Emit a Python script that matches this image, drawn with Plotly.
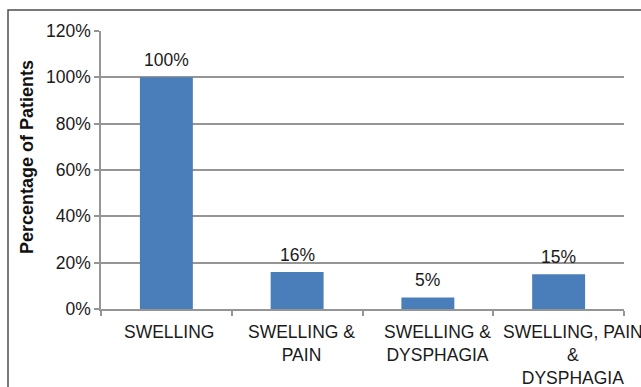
import plotly.graph_objects as go

categories = ["SWELLING", "SWELLING & PAIN", "SWELLING & DYSPHAGIA", "SWELLING, PAIN & DYSPHAGIA"]
category_labels = ["SWELLING", "SWELLING &<br>PAIN", "SWELLING &<br>DYSPHAGIA", "SWELLING, PAIN<br>&<br>DYSPHAGIA"]
percentages = [100, 16, 5, 15]
y_ticks = [0, 20, 40, 60, 80, 100, 120]
y_tick_labels = [f"{v}%" for v in y_ticks]

BAR_COLOR = "#4A7EBB"
GRID_COLOR = "#959595"
FONT = "Liberation Sans, Arial, sans-serif"
TEXT_SIZE = 17.5
LABEL_NUDGE = [2.5, 4, 9.5, 14.5]   # px: category labels drift rightward

fig = go.Figure()
fig.add_trace(go.Bar(
    x=categories,
    y=percentages,
    marker=dict(color=BAR_COLOR, line=dict(width=0)),
    width=0.405,
    hoverinfo="skip",
))

# value labels above each bar
for cat, val in zip(categories, percentages):
    fig.add_annotation(
        x=cat, y=val, text=f"{val}%", showarrow=False,
        xref="x", yref="y", yanchor="middle", yshift=17,
        font=dict(family=FONT, size=TEXT_SIZE, color="#1a1a1a"),
    )

# category labels under the axis
for cat, lab, dx in zip(categories, category_labels, LABEL_NUDGE):
    fig.add_annotation(
        x=cat, y=0, text=lab, showarrow=False,
        xref="x", yref="paper", xanchor="center", yanchor="top",
        xshift=dx, yshift=-10.5, align="center",
        font=dict(family=FONT, size=TEXT_SIZE, color="#1a1a1a"),
    )

# outer chart border (left and top edges visible; the rest runs off the page)
fig.add_shape(
    type="rect", xref="paper", yref="paper",
    x0=(8 - 101) / 523, x1=(720 - 101) / 523,
    y0=(309 - 480) / 278, y1=(309 - 10) / 278,
    line=dict(color="#4d4d4d", width=1.5), fillcolor="rgba(0,0,0,0)", layer="below",
)

# y-axis title
fig.add_annotation(
    x=(27 - 101) / 523, y=(309 - 157) / 278, xref="paper", yref="paper",
    text="<b>Percentage of Patients</b>", textangle=-90, showarrow=False,
    xanchor="center", yanchor="middle",
    font=dict(family=FONT, size=18, color="#111111"),
)

fig.update_layout(
    width=641, height=387,
    margin=dict(l=101, r=17, t=31, b=78),
    paper_bgcolor="white", plot_bgcolor="white",
    showlegend=False,
    font=dict(family=FONT, size=TEXT_SIZE, color="#1a1a1a"),
    xaxis=dict(
        type="category", categoryarray=categories,
        range=[-0.5, len(categories) - 0.5], autorange=False,
        tickson="boundaries", ticks="outside", ticklen=5,
        tickcolor=GRID_COLOR, tickwidth=1.5,
        showline=True, linecolor=GRID_COLOR, linewidth=1.5,
        showgrid=False, showticklabels=False, automargin=False,
        fixedrange=True,
    ),
    yaxis=dict(
        range=[0, 120], autorange=False, tickvals=y_ticks, ticktext=y_tick_labels,
        ticks="outside", ticklen=5, tickcolor=GRID_COLOR, tickwidth=1.5,
        showline=True, linecolor=GRID_COLOR, linewidth=1.5,
        showgrid=True, gridcolor=GRID_COLOR, gridwidth=1.5,
        zeroline=False, tickfont=dict(family=FONT, size=TEXT_SIZE, color="#1a1a1a"),
        automargin=False, fixedrange=True,
    ),
)

fig.write_html("out.html")
